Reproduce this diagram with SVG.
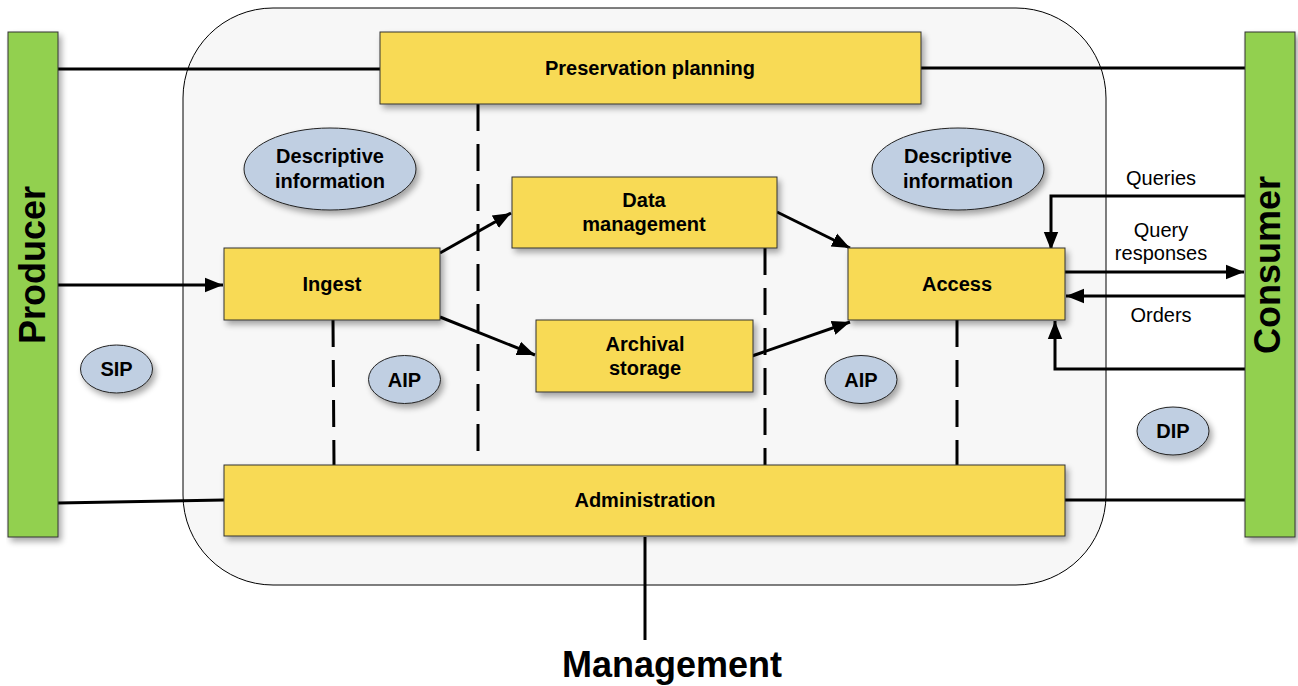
<svg xmlns="http://www.w3.org/2000/svg" width="1298" height="686" viewBox="0 0 1298 686">
<defs>
<filter id="sh" x="-10%" y="-10%" width="130%" height="140%">
<feGaussianBlur in="SourceAlpha" stdDeviation="3"/>
<feOffset dx="3" dy="4" result="b"/>
<feComponentTransfer><feFuncA type="linear" slope="0.35"/></feComponentTransfer>
<feMerge><feMergeNode/><feMergeNode in="SourceGraphic"/></feMerge>
</filter>
<marker id="ar" viewBox="0 0 10 10" refX="10" refY="5" markerWidth="6" markerHeight="6" markerUnits="strokeWidth" orient="auto">
<path d="M0,1 L10,5 L0,9 z" fill="#000"/>
</marker>
<style>
.box{fill:#F8DA54;stroke:#333;stroke-width:1}
.bar{fill:#92D050;stroke:#333;stroke-width:1}
.ell{fill:#C0CFE2;stroke:#222;stroke-width:1}
.lbl{font-family:"Liberation Sans",Arial,sans-serif;font-weight:bold;font-size:20px;fill:#000;text-anchor:middle}
.big{font-family:"Liberation Sans",Arial,sans-serif;font-weight:bold;font-size:36px;fill:#000;text-anchor:middle}
.reg{font-family:"Liberation Sans",Arial,sans-serif;font-size:20px;fill:#000;text-anchor:middle}
.ln{stroke:#000;stroke-width:3;fill:none}
.dash{stroke:#000;stroke-width:3;fill:none;stroke-dasharray:27 13}
</style>
</defs>
<rect width="1298" height="686" fill="#fff"/>
<g id="management-area">
<rect x="183" y="8" width="923" height="577" rx="90" ry="90" fill="#F7F7F7" stroke="#000" stroke-width="1"/>
</g>
<g id="connectors">
<line class="ln" x1="58" y1="69" x2="380" y2="69"/>
<line class="ln" x1="921" y1="68" x2="1245" y2="68"/>
<line class="ln" x1="58" y1="285" x2="223" y2="285" marker-end="url(#ar)"/>
<line class="ln" x1="58" y1="503" x2="224" y2="500"/>
<line class="ln" x1="1065" y1="500" x2="1245" y2="500"/>
<line class="ln" x1="645" y1="537" x2="645" y2="640"/>
<line class="dash" x1="478" y1="104" x2="478" y2="458"/>
<line class="dash" x1="333" y1="320" x2="334" y2="465"/>
<line class="dash" x1="765" y1="248" x2="765" y2="465"/>
<line class="dash" x1="957" y1="320" x2="957" y2="465"/>
<line class="ln" x1="440" y1="253" x2="511" y2="213" marker-end="url(#ar)"/>
<line class="ln" x1="440" y1="317" x2="535" y2="355" marker-end="url(#ar)"/>
<line class="ln" x1="777" y1="212" x2="850" y2="248" marker-end="url(#ar)"/>
<line class="ln" x1="752" y1="356" x2="850" y2="322" marker-end="url(#ar)"/>
<polyline class="ln" points="1245,196 1051,196 1051,250" marker-end="url(#ar)"/>
<line class="ln" x1="1065" y1="272" x2="1244" y2="272" marker-end="url(#ar)"/>
<line class="ln" x1="1245" y1="296" x2="1066" y2="296" marker-end="url(#ar)"/>
<polyline class="ln" points="1245,369 1055,369 1055,321" marker-end="url(#ar)"/>
<text class="reg" x="1161" y="185">Queries</text>
<text class="reg" x="1161" y="237">Query</text>
<text class="reg" x="1161" y="260">responses</text>
<text class="reg" x="1161" y="322">Orders</text>
</g>
<g id="producer">
<rect class="bar" x="8" y="32" width="50" height="505" filter="url(#sh)"/>
<text class="big" transform="translate(45,265) rotate(-90)">Producer</text>
</g>
<g id="consumer">
<rect class="bar" x="1245" y="32" width="50" height="505" filter="url(#sh)"/>
<text class="big" transform="translate(1280,265) rotate(-90)">Consumer</text>
</g>
<g id="preservation-planning">
<rect class="box" x="380" y="32" width="541" height="72" filter="url(#sh)"/>
<text class="lbl" x="650" y="75">Preservation planning</text>
</g>
<g id="ingest">
<rect class="box" x="224" y="248" width="216" height="72" filter="url(#sh)"/>
<text class="lbl" x="332" y="291">Ingest</text>
</g>
<g id="data-management">
<rect class="box" x="512" y="177" width="265" height="71" filter="url(#sh)"/>
<text class="lbl" x="644" y="207">Data</text>
<text class="lbl" x="644" y="231">management</text>
</g>
<g id="archival-storage">
<rect class="box" x="536" y="320" width="217" height="72" filter="url(#sh)"/>
<text class="lbl" x="645" y="351">Archival</text>
<text class="lbl" x="645" y="375">storage</text>
</g>
<g id="access">
<rect class="box" x="848" y="248" width="217" height="72" filter="url(#sh)"/>
<text class="lbl" x="957" y="291">Access</text>
</g>
<g id="administration">
<rect class="box" x="224" y="465" width="841" height="71" filter="url(#sh)"/>
<text class="lbl" x="645" y="507">Administration</text>
</g>
<g id="descriptive-info-left">
<ellipse class="ell" cx="330" cy="169" rx="86" ry="41" filter="url(#sh)"/>
<text class="lbl" x="330" y="163">Descriptive</text>
<text class="lbl" x="330" y="188">information</text>
</g>
<g id="descriptive-info-right">
<ellipse class="ell" cx="958" cy="169" rx="86" ry="41" filter="url(#sh)"/>
<text class="lbl" x="958" y="163">Descriptive</text>
<text class="lbl" x="958" y="188">information</text>
</g>
<g id="sip">
<ellipse class="ell" cx="116.5" cy="369" rx="36" ry="24" filter="url(#sh)"/>
<text class="lbl" x="116.5" y="376">SIP</text>
</g>
<g id="aip-left">
<ellipse class="ell" cx="404.5" cy="379.5" rx="36" ry="24" filter="url(#sh)"/>
<text class="lbl" x="404.5" y="386.5">AIP</text>
</g>
<g id="aip-right">
<ellipse class="ell" cx="861" cy="379.5" rx="36" ry="24" filter="url(#sh)"/>
<text class="lbl" x="861" y="386.5">AIP</text>
</g>
<g id="dip">
<ellipse class="ell" cx="1173" cy="431" rx="36" ry="24" filter="url(#sh)"/>
<text class="lbl" x="1173" y="438">DIP</text>
</g>
<g id="management-label">
<text class="big" x="672" y="677">Management</text>
</g>
</svg>
